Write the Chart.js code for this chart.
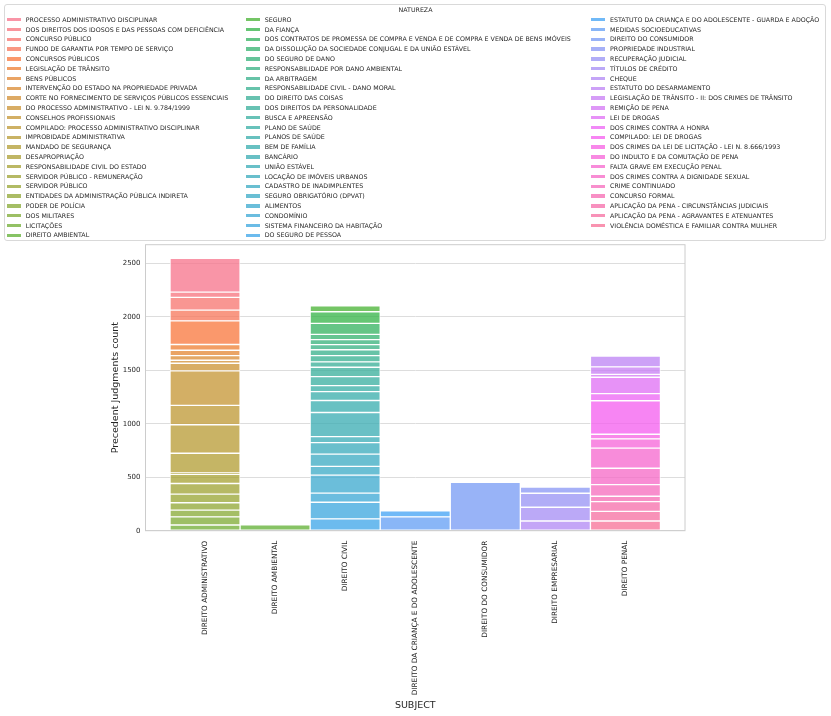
<!DOCTYPE html>
<html>
<head>
<meta charset="utf-8">
<script src="https://cdn.jsdelivr.net/npm/chart.js@4.4.1/dist/chart.umd.min.js"></script>
<style>
  html, body { margin: 0; padding: 0; background: #fff; }
  body { width: 831px; height: 716px; position: relative; overflow: hidden; font-family: 'DejaVu Sans', sans-serif; }
  #subject-chart { position: absolute; left: 0; top: 0; }
  #legend-box { position: absolute; left: 4px; top: 4px; width: 822px; height: 237px; border: 1px solid #d9d9d9; border-radius: 3px; box-sizing: border-box; }
  .lg-text { position: absolute; font-size: 6.3px; line-height: 9.8px; height: 9.8px; color: #262626; white-space: nowrap; }
  .lg-swatch { position: absolute; width: 14px; height: 3.5px; }
</style>
</head>
<body>
<canvas id="subject-chart" width="831" height="716"></canvas>
<div id="legend-box"></div>
<div id="legend"></div>
<script>
  const subjects = [
    "DIREITO ADMINISTRATIVO", "DIREITO AMBIENTAL", "DIREITO CIVIL",
    "DIREITO DA CRIANÇA E DO ADOLESCENTE", "DIREITO DO CONSUMIDOR",
    "DIREITO EMPRESARIAL", "DIREITO PENAL"
  ];

  // hue levels, in legend order; each subject uses the next ones in a row
  const naturezas = [
    "PROCESSO ADMINISTRATIVO DISCIPLINAR",
    "DOS DIREITOS DOS IDOSOS E DAS PESSOAS COM DEFICIÊNCIA",
    "CONCURSO PÚBLICO",
    "FUNDO DE GARANTIA POR TEMPO DE SERVIÇO",
    "CONCURSOS PÚBLICOS",
    "LEGISLAÇÃO DE TRÂNSITO",
    "BENS PÚBLICOS",
    "INTERVENÇÃO DO ESTADO NA PROPRIEDADE PRIVADA",
    "CORTE NO FORNECIMENTO DE SERVIÇOS PÚBLICOS ESSENCIAIS",
    "DO PROCESSO ADMINISTRATIVO - LEI N. 9.784/1999",
    "CONSELHOS PROFISSIONAIS",
    "COMPILADO: PROCESSO ADMINISTRATIVO DISCIPLINAR",
    "IMPROBIDADE ADMINISTRATIVA",
    "MANDADO DE SEGURANÇA",
    "DESAPROPRIAÇÃO",
    "RESPONSABILIDADE CIVIL DO ESTADO",
    "SERVIDOR PÚBLICO - REMUNERAÇÃO",
    "SERVIDOR PÚBLICO",
    "ENTIDADES DA ADMINISTRAÇÃO PÚBLICA INDIRETA",
    "PODER DE POLÍCIA",
    "DOS MILITARES",
    "LICITAÇÕES",
    "DIREITO AMBIENTAL",
    "SEGURO",
    "DA FIANÇA",
    "DOS CONTRATOS DE PROMESSA DE COMPRA E VENDA E DE COMPRA E VENDA DE BENS IMÓVEIS",
    "DA DISSOLUÇÃO DA SOCIEDADE CONJUGAL E DA UNIÃO ESTÁVEL",
    "DO SEGURO DE DANO",
    "RESPONSABILIDADE POR DANO AMBIENTAL",
    "DA ARBITRAGEM",
    "RESPONSABILIDADE CIVIL - DANO MORAL",
    "DO DIREITO DAS COISAS",
    "DOS DIREITOS DA PERSONALIDADE",
    "BUSCA E APREENSÃO",
    "PLANO DE SAÚDE",
    "PLANOS DE SAÚDE",
    "BEM DE FAMÍLIA",
    "BANCÁRIO",
    "UNIÃO ESTÁVEL",
    "LOCAÇÃO DE IMÓVEIS URBANOS",
    "CADASTRO DE INADIMPLENTES",
    "SEGURO OBRIGATÓRIO (DPVAT)",
    "ALIMENTOS",
    "CONDOMÍNIO",
    "SISTEMA FINANCEIRO DA HABITAÇÃO",
    "DO SEGURO DE PESSOA",
    "ESTATUTO DA CRIANÇA E DO ADOLESCENTE - GUARDA E ADOÇÃO",
    "MEDIDAS SOCIOEDUCATIVAS",
    "DIREITO DO CONSUMIDOR",
    "PROPRIEDADE INDUSTRIAL",
    "RECUPERAÇÃO JUDICIAL",
    "TÍTULOS DE CRÉDITO",
    "CHEQUE",
    "ESTATUTO DO DESARMAMENTO",
    "LEGISLAÇÃO DE TRÂNSITO - II: DOS CRIMES DE TRÂNSITO",
    "REMIÇÃO DE PENA",
    "LEI DE DROGAS",
    "DOS CRIMES CONTRA A HONRA",
    "COMPILADO: LEI DE DROGAS",
    "DOS CRIMES DA LEI DE LICITAÇÃO - LEI N. 8.666/1993",
    "DO INDULTO E DA COMUTAÇÃO DE PENA",
    "FALTA GRAVE EM EXECUÇÃO PENAL",
    "DOS CRIMES CONTRA A DIGNIDADE SEXUAL",
    "CRIME CONTINUADO",
    "CONCURSO FORMAL",
    "APLICAÇÃO DA PENA - CIRCUNSTÂNCIAS JUDICIAIS",
    "APLICAÇÃO DA PENA - AGRAVANTES E ATENUANTES",
    "VIOLÊNCIA DOMÉSTICA E FAMILIAR CONTRA MULHER"
  ];

  // counts per natureza inside each subject (top of the stack first)
  const adminValues = [316, 50, 119, 100, 221, 54, 50, 43, 28, 72, 323, 180, 267, 184, 12, 87, 99, 81, 68, 63, 77, 53];
  const ambientalValues = [54];
  const civilValues = [55, 109, 103, 49, 47, 47, 55, 59, 50, 87, 84, 56, 84, 112, 225, 56, 108, 114, 83, 167, 86, 155, 111];
  const criancaValues = [55, 130];
  const consumidorValues = [452];
  const empresarialValues = [59, 131, 128, 91];
  const penalValues = [101, 70, 27, 153, 67, 313, 43, 87, 188, 153, 109, 50, 91, 90, 91];

  const subjectValues = [adminValues, ambientalValues, civilValues, criancaValues, consumidorValues, empresarialValues, penalValues];

  const yTicks = [0, 500, 1000, 1500, 2000, 2500];

  // seaborn husl palette
  function huslToRgb(h, s, l) {
    const M = [[3.2406, -1.5372, -0.4986], [-0.9689, 1.8758, 0.0415], [0.0557, -0.2040, 1.0570]];
    const refU = 0.19784, refV = 0.46834;
    const hrad = h * Math.PI / 180, sinH = Math.sin(hrad), cosH = Math.cos(hrad);
    const sub1 = Math.pow(l + 16, 3) / 1560896;
    const sub2 = sub1 > 0.008856 ? sub1 : l / 903.3;
    let maxC = Infinity;
    M.forEach(([m1, m2, m3]) => {
      const top = (0.99915 * m1 + 1.05122 * m2 + 1.14460 * m3) * sub2;
      const rbottom = 0.86330 * m3 - 0.17266 * m2;
      const lbottom = 0.12949 * m3 - 0.38848 * m1;
      const bottom = (rbottom * sinH + lbottom * cosH) * sub2;
      [0, 1].forEach(t => {
        const c = l * (top - 1.05122 * t) / (bottom + 0.17266 * sinH * t);
        if (c > 0 && c < maxC) maxC = c;
      });
    });
    const C = maxC / 100 * s;
    const U = cosH * C, V = sinH * C;
    const t = (l + 16) / 116;
    const Y = Math.pow(t, 3) > 0.008856 ? Math.pow(t, 3) : (116 * t - 16) / 903.3;
    const varU = U / (13 * l) + refU, varV = V / (13 * l) + refV;
    const X = -(9 * Y * varU) / ((varU - 4) * varV - varU * varV);
    const Z = (9 * Y - 15 * varV * Y - varV * X) / (3 * varV);
    return M.map(([a, b, c]) => {
      let v = a * X + b * Y + c * Z;
      v = v <= 0.0031308 ? 12.92 * v : 1.055 * Math.pow(v, 1 / 2.4) - 0.055;
      return Math.round(Math.min(1, Math.max(0, v)) * 255);
    });
  }
  function huslPalette(n) {
    let out = [];
    for (let i = 0; i < n; i++) {
      let hue = ((i / n + 0.01) % 1) * 359;
      out.push(huslToRgb(hue, 0.9 * 99, 0.65 * 99));
    }
    return out;
  }
  const palette = huslPalette(naturezas.length);
  const rgba = (c, a) => `rgba(${c[0]}, ${c[1]}, ${c[2]}, ${a})`;

  let datasets = [];
  let k = 0;
  subjectValues.forEach((vals, s) => {
    vals.forEach(v => {
      datasets.push({
        label: naturezas[k],
        data: [{ x: s, y: v }],
        backgroundColor: rgba(palette[k], 0.75),
        borderColor: "rgba(255, 255, 255, 0.75)",
        borderWidth: 1,
        borderSkipped: false
      });
      k++;
    });
  });
  // chart.js stacks the first dataset at the bottom, seaborn puts the first hue on top
  datasets.reverse();

  const frame = {
    id: "frame",
    afterDatasetsDraw(chart) {
      const { ctx, chartArea: a } = chart;
      ctx.save();
      ctx.strokeStyle = "#cccccc";
      ctx.lineWidth = 1;
      ctx.strokeRect(a.left, a.top, a.right - a.left, a.bottom - a.top);
      ctx.restore();
    }
  };

  Chart.defaults.font.family = "'DejaVu Sans', sans-serif";
  Chart.defaults.color = "#262626";

  let ctx = document.getElementById("subject-chart").getContext("2d");
  let subjectChart = new Chart(ctx, {
    type: "bar",
    data: { datasets: datasets },
    plugins: [frame],
    options: {
      responsive: false,
      animation: false,
      barPercentage: 1,
      categoryPercentage: 1,
      layout: { padding: { top: 244.7, left: 100, right: 146, bottom: 0 } },
      plugins: { legend: { display: false }, tooltip: { enabled: false } },
      scales: {
        x: {
          type: "linear",
          stacked: true,
          offset: false,
          min: -0.85,
          max: 6.85,
          grid: { display: false, offset: false },
          border: { display: false },
          afterBuildTicks: axis => { axis.ticks = subjects.map((_, i) => ({ value: i })); },
          afterFit: axis => { axis.height = 185.3; },
          ticks: {
            autoSkip: false,
            minRotation: 90,
            maxRotation: 90,
            padding: 2,
            font: { size: 7.3 },
            callback: value => subjects[value]
          },
          title: { display: true, text: "SUBJECT", font: { size: 9.5 }, padding: { top: 0, bottom: 5 } }
        },
        y: {
          stacked: true,
          min: 0,
          max: 2674,
          grid: { color: "#dddddd", lineWidth: 1, drawTicks: false },
          border: { display: false },
          afterBuildTicks: axis => { axis.ticks = yTicks.map(v => ({ value: v })); },
          afterFit: axis => { axis.width = 45.5; },
          ticks: { padding: 5, font: { size: 7 }, callback: value => String(value) },
          title: { display: true, text: "Precedent Judgments count", font: { size: 9.5 }, padding: { top: 10, bottom: 0 } }
        }
      }
    }
  });

  // legend: 3 columns filled top to bottom, like matplotlib ncol=3
  const legend = document.getElementById("legend");
  const colX = [6.7, 245.7, 591];
  const perCol = Math.ceil(naturezas.length / 3);

  let title = document.createElement("div");
  title.className = "lg-text";
  title.textContent = "NATUREZA";
  title.style.top = (9.7 - 4.9) + "px";
  title.style.left = "0px";
  title.style.width = "831px";
  title.style.textAlign = "center";
  legend.appendChild(title);

  naturezas.forEach((name, i) => {
    const col = Math.floor(i / perCol), row = i % perCol;
    const cy = 19.7 + row * 9.8;
    let sw = document.createElement("div");
    sw.className = "lg-swatch";
    sw.style.left = colX[col] + "px";
    sw.style.top = (cy - 1.75) + "px";
    sw.style.background = rgba(palette[i], 0.75);
    legend.appendChild(sw);
    let txt = document.createElement("div");
    txt.className = "lg-text";
    txt.textContent = name;
    txt.style.left = (colX[col] + 19) + "px";
    txt.style.top = (cy - 4.9) + "px";
    legend.appendChild(txt);
  });
</script>
</body>
</html>
